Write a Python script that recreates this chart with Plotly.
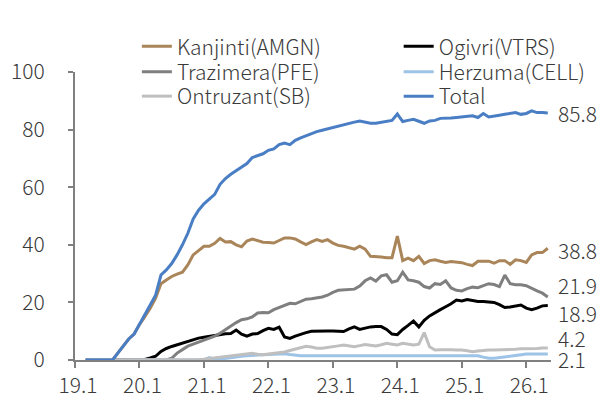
import plotly.graph_objects as go

# month index: 0 = Jan 2019
month_idx = list(range(2, 89))

tick_vals = [0, 12, 24, 36, 48, 60, 72, 84]
tick_text = ["19.1", "20.1", "21.1", "22.1", "23.1", "24.1", "25.1", "26.1"]

kanjinti = [0, 0, 0, 0, 0, 0,
            2.5, 5, 7.3, 9, 12.3, 15, 18, 21.5,
            26.5, 27.8, 29, 29.8, 30.5, 33, 36.5, 38, 39.5, 39.5,
            40.5, 42.2, 41, 41.1, 40, 39.3, 41.3, 42, 41.5, 40.9,
            40.8, 40.6, 41.5, 42.4, 42.4, 42, 41, 40.1, 41, 41.8,
            41.2, 41.8, 40.6, 39.8, 39.5, 39, 38.5, 39.5, 38.5, 36,
            36, 35.8, 35.5, 35.5, 43, 34.5, 35.4, 34.5, 36, 33.5,
            34.5, 34.8, 34.3, 33.9, 34.2, 34, 33.8, 33.2, 32.8, 34.3,
            34.3, 34.3, 33.6, 34.5, 34.5, 33.2, 34.8, 34.5, 33.9, 36.5,
            37.3, 37.3, 38.8]

ogivri = [0, 0, 0, 0, 0, 0, 0, 0, 0, 0, 0,
          0.2, 0.7, 1.3, 3, 4, 4.7, 5.3, 5.9, 6.5, 7.2,
          7.6, 7.9, 8.2, 8.5, 8.9, 9.1, 9.2, 10.4, 9, 8.3,
          9, 9.2, 10.2, 11, 10.6, 11.4, 8, 7.5, 8.3, 9,
          9.5, 10, 10.1, 10.1, 10.1, 10.1, 10.1, 9.9, 10.8, 11.5,
          10.6, 11, 11.5, 11.6, 11.6, 10.6, 9, 8.8, 10.6, 12,
          13.5, 11.5, 13.8, 15.3, 16.5, 17.5, 18.5, 19.5, 20.8, 20.5,
          21, 20.7, 20.3, 20.3, 20.2, 20, 19.2, 18.2, 18.4, 18.8,
          19.1, 18, 17.5, 18, 18.8, 18.9]

trazimera = [0, 0, 0, 0, 0, 0, 0, 0, 0, 0, 0, 0, 0, 0, 0, 0,
             0.6, 2.4, 3.6, 4.8, 5.5, 6.2, 6.8, 7.4, 8.3, 9.3,
             10.6, 11.8, 13, 14, 14.3, 15, 16.3, 16.5, 16.4, 17.5,
             18.3, 19, 19.7, 19.5, 20.3, 21.1, 21.3, 21.5, 21.9, 22.5,
             23.5, 24.2, 24.4, 24.4, 24.6, 25.7, 27.5, 28.5, 27.4, 29.2,
             29.6, 27, 27.5, 30.5, 27.8, 27.5, 27, 25.5, 25, 26.5,
             26.2, 27.5, 25, 24.2, 24, 24.8, 25.3, 25.1, 25.8, 26.5,
             26.2, 25.5, 29.5, 26.5, 26.1, 26.1, 25.8, 24.8, 24, 23.2,
             21.9]

herzuma = [0, 0, 0, 0, 0, 0, 0, 0, 0, 0, 0, 0, 0, 0, 0, 0, 0, 0, 0, 0, 0, 0, 0,
           0.8, 0.3, 0.3, 0.6, 0.9, 1.1, 1.3, 1.5, 1.6, 1.7,
           1.8, 1.9, 2.1, 2.3, 2.2, 1.9, 1.6, 1.5, 1.5, 1.5,
           1.5, 1.5, 1.5, 1.5, 1.5, 1.5, 1.5, 1.5, 1.5, 1.5,
           1.5, 1.5, 1.5, 1.5, 1.5, 1.5, 1.5, 1.5, 1.5, 1.5,
           1.5, 1.5, 1.5, 1.5, 1.5, 1.5, 1.5, 1.5, 1.5, 1.5,
           1.5,
           1.0, 0.6, 0.6, 0.8, 1.2, 1.3, 1.5, 1.8, 2.1, 2.1,
           2.1, 2.1, 2.1]

ontruzant = [0, 0, 0, 0, 0, 0, 0, 0, 0, 0, 0, 0, 0, 0, 0, 0, 0, 0, 0, 0, 0,
             0.2, 0.3, 0.5, 0.7, 0.9, 1.2, 1.4, 1.7, 1.9, 2.1,
             2.3, 2, 1.8, 2.1, 2.3, 2.5, 2.8, 3.3, 3.8, 4.5,
             4.8, 4.5, 4.1, 4.1, 4.3, 4.6, 4.9, 5.2, 4.8, 4.6,
             5, 5.4, 5.1, 4.9, 5.3, 5.8, 5.5, 5.2, 5.8, 5.6,
             5.2, 5.5, 9.5, 4.6, 3.5, 3.6, 3.7, 3.6, 3.5, 3.5,
             3.2, 2.9, 3.1, 3.4, 3.5, 3.5, 3.5, 3.5, 3.5, 3.7,
             3.9, 3.9, 3.9, 4, 4.2, 4.2]

total = [0, 0, 0, 0, 0, 0,
         2.5, 5, 7.3, 9, 12.3, 15.5, 18.8, 22.5,
         29.5, 31.3, 33.5, 36.5, 40, 44, 49, 52, 54.2, 56,
         57.5, 61, 63, 64.5, 65.8, 66.8, 68.2, 70.3, 71, 71.6,
         72.8, 73.3, 74.8, 75.3, 74.8, 76.3, 77.1, 77.9, 78.6, 79.3,
         79.8, 80.3, 80.8, 81.2, 81.7, 82.1, 82.6, 83, 82.5, 82.2,
         82.2, 82.5, 83, 83.2, 85.4, 82.8, 83.2, 83.6, 82.9, 82.2,
         83, 83.2, 83.9, 83.9, 84, 84.2, 84.4, 84.6, 84.8, 84.2,
         85.6, 84.4, 84.6, 85, 85.3, 85.6, 85.9, 85.3, 85.6, 86.5,
         85.9, 85.9, 85.8]

end_labels = ["38.8", "18.9", "21.9", "2.1", "4.2", "85.8"]

series = [
    ("Kanjinti(AMGN)", kanjinti, "#A98559"),
    ("Ogivri(VTRS)", ogivri, "#000000"),
    ("Trazimera(PFE)", trazimera, "#7F7F7F"),
    ("Herzuma(CELL)", herzuma, "#9DC3E6"),
    ("Ontruzant(SB)", ontruzant, "#BFBFBF"),
    ("Total", total, "#4A7EC4"),
]
# legend slot for each series: (column x in paper, row y in paper)
legend_slots = [(0.13, 1.088), (0.68, 1.088),
                (0.13, 1.0), (0.68, 1.0),
                (0.13, 0.915), (0.68, 0.915)]
# vertical nudges (in axis units) for end labels to avoid overlap
label_nudge = [-0.5, -2.6, 4.2, -1.8, 3.5, 0]

FONT = "Noto Sans CJK KR"
TXT = "#3A3A3A"

fig = go.Figure()
legend_layout = {}
for i, (name, vals, col) in enumerate(series):
    lg = "legend" if i == 0 else f"legend{i + 1}"
    fig.add_trace(go.Scatter(x=month_idx, y=vals, name=name, mode="lines",
                             line=dict(color=col, width=3), legend=lg))
    lx, ly = legend_slots[i]
    legend_layout[lg] = dict(x=lx, y=ly, xanchor="left", yanchor="middle",
                             font=dict(family=FONT, size=21, color=TXT, weight=300),
                             bgcolor="rgba(0,0,0,0)")

for (name, vals, col), lab, nd in zip(series, end_labels, label_nudge):
    fig.add_annotation(x=month_idx[-1], y=vals[-1] + nd, text=lab, showarrow=False,
                       xanchor="left", yanchor="middle", xshift=8, height=22,
                       font=dict(family=FONT, size=21, color=TXT, weight=300))

# the page body adds an 8 px offset, so the figure is sized to fit the window
fig.update_layout(
    width=600, height=393,
    margin=dict(l=67, r=57, t=64, b=41, autoexpand=False),
    paper_bgcolor="white", plot_bgcolor="white",
    font=dict(family=FONT, size=20, color=TXT),
    showlegend=True,
    **legend_layout,
)
fig.update_xaxes(range=[0, 88.6], tickvals=tick_vals, ticktext=tick_text,
                 showgrid=False, zeroline=False, showline=True,
                 linecolor="#808080", linewidth=2, ticks="outside",
                 tickcolor="#808080", tickwidth=2, ticklen=6,
                 ticklabelshift=3,
                 tickfont=dict(family=FONT, size=21, color=TXT, weight=300))
fig.update_yaxes(range=[0, 100], tickvals=[0, 20, 40, 60, 80, 100],
                 showgrid=False, zeroline=False, showline=True,
                 linecolor="#808080", linewidth=2, ticks="outside",
                 tickcolor="#808080", tickwidth=2, ticklen=5,
                 ticklabelstandoff=19,
                 tickfont=dict(family=FONT, size=21, color=TXT, weight=300))

fig.write_html("out.html")
